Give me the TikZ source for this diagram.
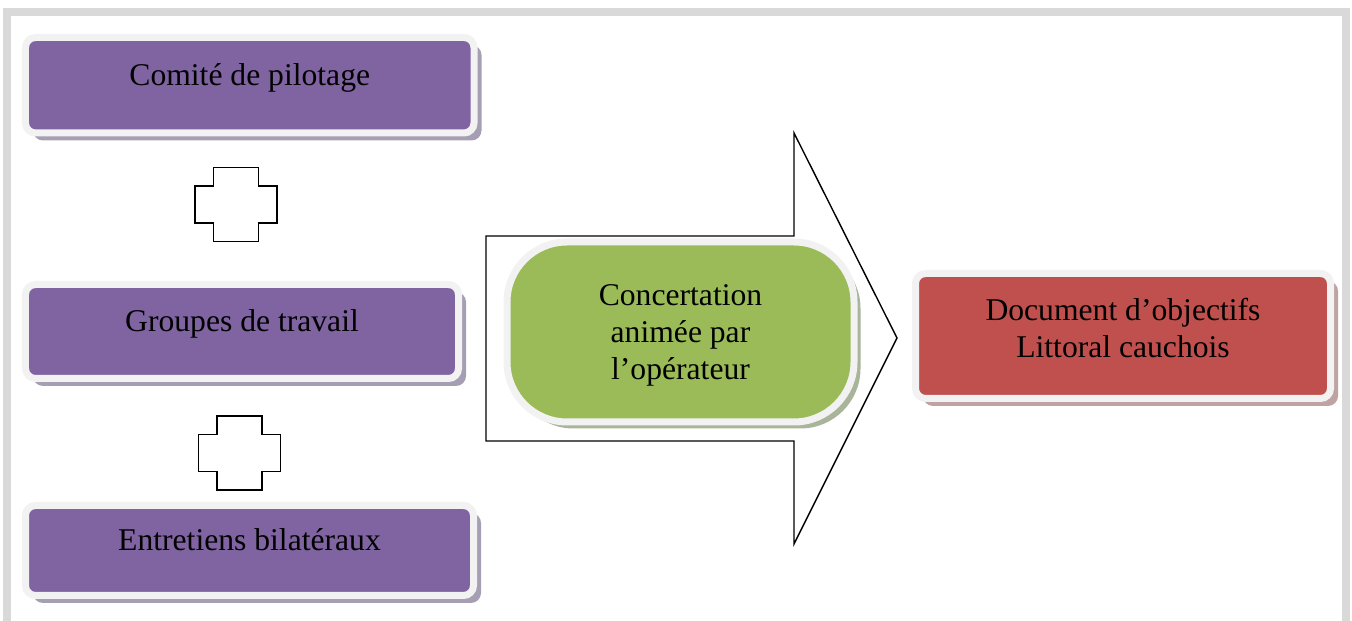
\documentclass[tikz,border=0pt]{standalone}
\usepackage{fontspec}
\setmainfont{Liberation Serif}
\usepackage{xcolor}
\usepackage{tikz}
\usetikzlibrary{shadows}

\definecolor{violetbloc}{HTML}{8064A2}
\definecolor{vertbloc}{HTML}{9BBB59}
\definecolor{rougebloc}{HTML}{C0504D}
\definecolor{bordclair}{HTML}{F2F2F2}
\definecolor{griscadre}{HTML}{D9D9D9}
\definecolor{ombreviolet}{HTML}{A69EB3}
\definecolor{ombrevert}{HTML}{A9B59B}
\definecolor{ombrerouge}{HTML}{BFA2A2}

\tikzset{
	bloc/.style={draw=bordclair, line width=0.14cm, rounded corners=0.2cm, align=center,
		font=\fontsize{18pt}{21pt}\selectfont},
	violet/.style={bloc, fill=violetbloc, text height=0.45cm, text depth=0.45cm,
		drop shadow={shadow xshift=0.15cm, shadow yshift=-0.15cm, fill=ombreviolet, opacity=1}},
	vert/.style={bloc, fill=vertbloc, rounded corners=1.2cm, text depth=0pt,
		drop shadow={shadow xshift=0.13cm, shadow yshift=-0.13cm, fill=ombrevert, opacity=1}},
	rouge/.style={bloc, fill=rougebloc, text depth=0.34cm,
		drop shadow={shadow xshift=0.15cm, shadow yshift=-0.15cm, fill=ombrerouge, opacity=1}},
	signe/.style={draw=black, line width=1pt},
	fleche/.style={draw=black, fill=white, line width=0.8pt}
}

\begin{document}
\begin{tikzpicture}
		\useasboundingbox (0,0) rectangle (27.04,12.42);
		\draw[griscadre, line width=0.16cm] (0.15,0) -- (0.15,12.17) -- (26.91,12.17) -- (26.91,0);
		\draw[fleche] (9.72,7.70) -- (15.88,7.70) -- (15.88,9.76) -- (17.94,5.66)
			-- (15.88,1.54) -- (15.88,3.60) -- (9.72,3.60) -- cycle;
		\foreach \cx/\cy in {4.72/8.33, 4.79/3.36}
			\draw[signe, shift={(\cx,\cy)}] (-0.45,0.74) -- (0.45,0.74) -- (0.45,0.37) -- (0.82,0.37)
				-- (0.82,-0.37) -- (0.45,-0.37) -- (0.45,-0.74) -- (-0.45,-0.74) -- (-0.45,-0.37)
				-- (-0.82,-0.37) -- (-0.82,0.37) -- (-0.45,0.37) -- cycle;
		\draw
		node[violet, minimum width=8.97cm, minimum height=1.91cm] at (4.995,10.715) (comite) {Comité de pilotage}
		node[violet, minimum width=8.66cm, minimum height=1.88cm] at (4.84,5.79) (groupes) {Groupes de travail}
		node[violet, minimum width=8.96cm, minimum height=1.80cm] at (4.99,1.41) (entretiens) {Entretiens bilatéraux}
		node[vert, minimum width=6.94cm, minimum height=3.6cm] at (13.61,5.78) (concertation) {Concertation\\animée par\\l’opérateur}
		node[rouge, minimum width=8.3cm, minimum height=2.5cm] at (22.46,5.70) (docob) {Document d’objectifs\\Littoral cauchois};
	\end{tikzpicture}
\end{document}
